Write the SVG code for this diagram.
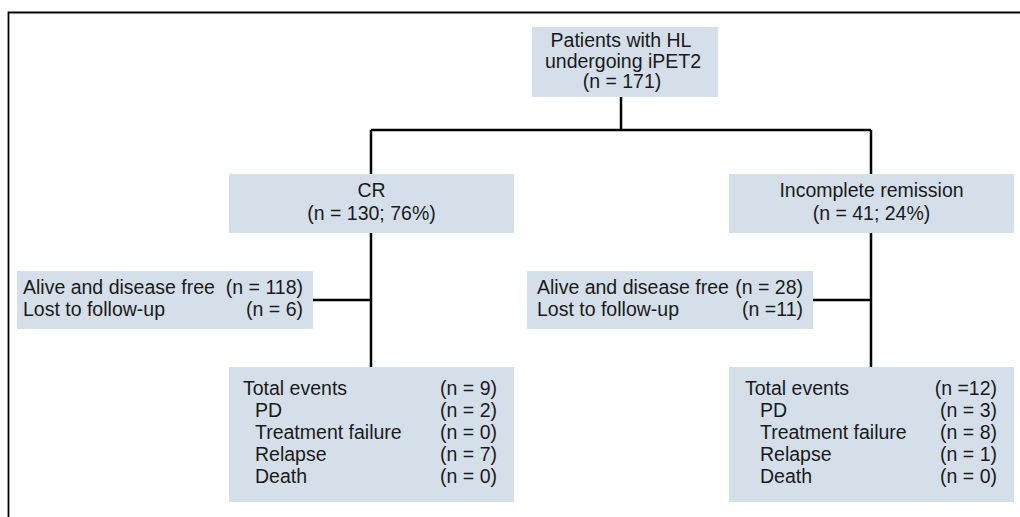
<svg xmlns="http://www.w3.org/2000/svg" width="1020" height="517" viewBox="0 0 1020 517">
<style>
.box{fill:#d5dfe9;}
.t{font-family:"Liberation Sans",Arial,sans-serif;font-size:19.5px;fill:#1a1a1a;}
.c{text-anchor:middle;}
.e{text-anchor:end;}
.ln{stroke:#000;stroke-width:2.5;fill:none;}
</style>
<rect width="1020" height="517" fill="#fff"/>
<path d="M8.5,517 V12.5 H1020" stroke="#000" stroke-width="1.8" fill="none"/>
<g id="connectors">
<path class="ln" d="M621,97 V130 M371,130 H871 M371,130 V174 M871,130 V174 M371,233 V367 M871,233 V367 M313,300 H371 M813,300 H871"/>
</g>
<g id="node-patients">
<rect class="box" x="532" y="27" width="186" height="70"/>
<text class="t c" x="621" y="47">Patients with HL</text>
<text class="t c" x="623" y="68">undergoing iPET2</text>
<text class="t c" x="622" y="88">(n = 171)</text>
</g>
<g id="node-cr">
<rect class="box" x="229" y="174" width="285" height="59"/>
<text class="t c" x="371.5" y="197">CR</text>
<text class="t c" x="371.5" y="220">(n = 130; 76%)</text>
</g>
<g id="node-incomplete">
<rect class="box" x="729" y="174" width="285" height="59"/>
<text class="t c" x="871.5" y="197">Incomplete remission</text>
<text class="t c" x="871.5" y="220">(n = 41; 24%)</text>
</g>
<g id="node-cr-followup">
<rect class="box" x="17" y="271" width="296" height="58"/>
<text class="t" x="23" y="294">Alive and disease free</text>
<text class="t e" x="303" y="294">(n = 118)</text>
<text class="t" x="23" y="316">Lost to follow-up</text>
<text class="t e" x="303" y="316">(n = 6)</text>
</g>
<g id="node-ir-followup">
<rect class="box" x="527" y="271" width="286" height="58"/>
<text class="t" x="537" y="294">Alive and disease free</text>
<text class="t e" x="803" y="294">(n = 28)</text>
<text class="t" x="537" y="316">Lost to follow-up</text>
<text class="t e" x="803" y="316">(n =11)</text>
</g>
<g id="node-cr-events">
<rect class="box" x="229" y="367" width="285" height="135"/>
<text class="t" x="243" y="395">Total events</text>
<text class="t e" x="497" y="395">(n = 9)</text>
<text class="t" x="255" y="417">PD</text>
<text class="t e" x="497" y="417">(n = 2)</text>
<text class="t" x="255" y="439">Treatment failure</text>
<text class="t e" x="497" y="439">(n = 0)</text>
<text class="t" x="255" y="461">Relapse</text>
<text class="t e" x="497" y="461">(n = 7)</text>
<text class="t" x="255" y="483">Death</text>
<text class="t e" x="497" y="483">(n = 0)</text>
</g>
<g id="node-ir-events">
<rect class="box" x="729" y="367" width="285" height="135"/>
<text class="t" x="745" y="395">Total events</text>
<text class="t e" x="997" y="395">(n =12)</text>
<text class="t" x="760" y="417">PD</text>
<text class="t e" x="997" y="417">(n = 3)</text>
<text class="t" x="760" y="439">Treatment failure</text>
<text class="t e" x="997" y="439">(n = 8)</text>
<text class="t" x="760" y="461">Relapse</text>
<text class="t e" x="997" y="461">(n = 1)</text>
<text class="t" x="760" y="483">Death</text>
<text class="t e" x="997" y="483">(n = 0)</text>
</g>
</svg>
